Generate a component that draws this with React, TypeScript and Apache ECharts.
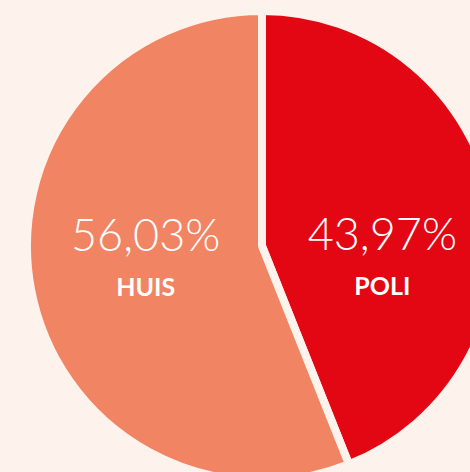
import React, { useEffect, useRef } from "react";
import * as echarts from "echarts";

const categories = ["POLI", "HUIS"];
const values = [43.97, 56.03];
const colors = ["#E30613", "#F18462"];
const labelOffsets: [number, number][] = [[2, 30], [2, -15]];
const BG = "#FDF2EC";

export default function App() {
  const ref = useRef<HTMLDivElement>(null);
  useEffect(() => {
    document.body.style.margin = "0";
    document.body.style.background = BG;
    const chart = echarts.init(ref.current!, null, { renderer: "svg" });
    chart.setOption({
      animation: false,
      backgroundColor: BG,
      series: [
        {
          type: "pie",
          center: [262, 246],
          radius: [0, 235],
          startAngle: 90,
          clockwise: true,
          silent: true,
          itemStyle: { borderColor: BG, borderWidth: 8 },
          labelLine: { show: false },
          data: categories.map((c, i) => ({
            name: c,
            value: values[i],
            itemStyle: { color: colors[i] },
            label: {
              show: true,
              position: "inside",
              offset: labelOffsets[i],
              formatter: (p: any) =>
                `{p|${p.value.toFixed(2).replace(".", ",")}%}\n{n|${p.name}}`,
              rich: {
                p: { fontFamily: "Lato", fontWeight: 300, fontSize: 45, color: "#fff", lineHeight: 64 },
                n: { fontFamily: "Lato", fontWeight: "bold", fontSize: 25, color: "#fff", lineHeight: 40 },
              },
            },
          })),
        },
      ],
    });
    return () => chart.dispose();
  }, []);
  return <div ref={ref} style={{ width: 470, height: 472 }} />;
}
